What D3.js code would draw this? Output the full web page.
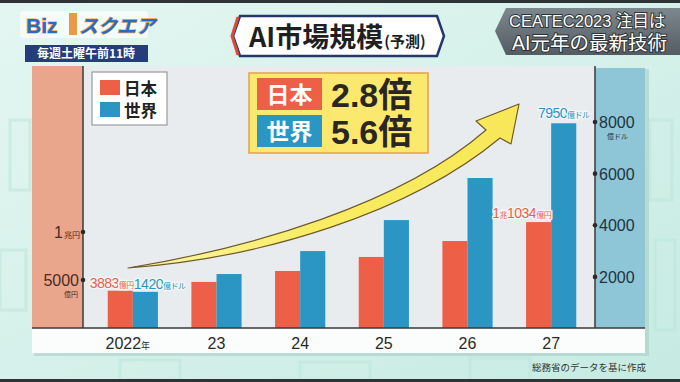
<!DOCTYPE html>
<html><head><meta charset="utf-8">
<script src="https://cdn.jsdelivr.net/npm/d3@7"></script>
<style>html,body{margin:0;padding:0;background:#d6f0ea;}svg{display:block;}</style>
</head><body><svg id="c" width="680" height="382"></svg>
<script>
const years = ["2022", "23", "24", "25", "26", "27"];
const japan = [3883, 4800, 5940, 7400, 9060, 11034];   // 億円
const world = [1420, 2110, 3000, 4200, 5830, 7950];    // 億ドル
const leftTicks = [5000, 10000];
const rightTicks = [2000, 4000, 6000, 8000];
const seriesNames = ["日本", "世界"];
const multiples = ["2.8倍", "5.6倍"];

const FONT = "'Liberation Sans','Noto Sans CJK JP',sans-serif";
const JP = "'Noto Sans CJK JP',sans-serif";
const RED = "#ee5f47", BLUE = "#2b95c3";

const svg = d3.select("#c");
const defs = svg.append("defs");
const bg = defs.append("linearGradient").attr("id","bg").attr("x1",0).attr("y1",0).attr("x2",1).attr("y2",1);
bg.append("stop").attr("offset",0).attr("stop-color","#e4f6f2");
bg.append("stop").attr("offset",1).attr("stop-color","#c6ebe2");
const tr = defs.append("linearGradient").attr("id","tr").attr("x1",0).attr("y1",0).attr("x2",0).attr("y2",1);
tr.append("stop").attr("offset",0).attr("stop-color","#7d888e");
tr.append("stop").attr("offset",1).attr("stop-color","#535c62");
const ar = defs.append("linearGradient").attr("id","ar").attr("x1",0).attr("y1",0).attr("x2",1).attr("y2",0);
ar.append("stop").attr("offset",0).attr("stop-color","#fbf6a8");
ar.append("stop").attr("offset",0.5).attr("stop-color","#f8ec62");
ar.append("stop").attr("offset",1).attr("stop-color","#f8e858");

svg.append("rect").attr("width",680).attr("height",382).attr("fill","url(#bg)");
const pat = svg.append("g").attr("fill","none").attr("stroke","#bfe7dc").attr("stroke-width",3).attr("opacity",0.6);
[[10,120,20,70],[0,250,26,60],[650,120,22,80],[655,240,20,90],[120,360,60,20],[300,362,70,18],[470,358,60,22]].forEach(r=>pat.append("rect").attr("x",r[0]).attr("y",r[1]).attr("width",r[2]).attr("height",r[3]));
svg.append("rect").attr("width",680).attr("height",3).attr("fill","#2e3336");
svg.append("rect").attr("y",379).attr("width",680).attr("height",3).attr("fill","#2e3336");

// ---------- header ----------
const logo = svg.append("g");
logo.append("rect").attr("x",20).attr("y",11).attr("width",128).attr("height",27).attr("rx",3).attr("fill","#f4fbfa");
logo.append("text").attr("x",26).attr("y",33).attr("font-family",FONT).attr("font-weight","bold")
  .attr("font-size",21).attr("fill","#2a6cc2").attr("stroke","#f2a64a").attr("stroke-width",1.2).attr("paint-order","stroke").text("Biz");
logo.append("rect").attr("x",69).attr("y",13).attr("width",8).attr("height",22).attr("fill","#e89a45");
logo.append("text").attr("x",79).attr("y",33).attr("font-family",JP).attr("font-weight","bold").attr("font-style","italic")
  .attr("font-size",19).attr("fill","#2a6cc2").attr("stroke","#f2a64a").attr("stroke-width",1.2).attr("paint-order","stroke").text("スクエア");
svg.append("rect").attr("x",25).attr("y",45).attr("width",123).attr("height",17).attr("fill","#263d7b");
svg.append("text").attr("x",86).attr("y",58).attr("text-anchor","middle").attr("font-family",JP).attr("font-weight","bold")
  .attr("font-size",12).attr("fill","#fff").text("毎週土曜午前11時");

const tg = svg.append("g");
tg.append("path").attr("d","M240,16 L437,16 L444,36 L437,56 L240,56 L233,36 Z").attr("fill","#fff").attr("stroke","#24386a").attr("stroke-width",2.5);
tg.append("path").attr("d","M238,17 L232,36 L238,55").attr("fill","none").attr("stroke","#e0493a").attr("stroke-width",3);
const tt = tg.append("text").attr("x",249).attr("y",47).attr("font-family",JP).attr("font-weight","bold").attr("fill","#1f1f1f");
tt.append("tspan").attr("font-size",27).text("AI市場規模");
tt.append("tspan").attr("font-size",15).attr("dx",1).text("(予測)");

svg.append("path").attr("d","M506,8 L680,8 L680,55 L506,55 L495,31 Z").attr("fill","url(#tr)");
[["CEATEC2023 注目は",27,16.5,509],["AI元年の最新技術",50,19.5,512]].forEach(d=>{
  svg.append("text").attr("x",d[3]).attr("y",d[1]).attr("font-family",FONT).attr("font-size",d[2]).attr("fill","#fff")
    .attr("stroke","#2d3438").attr("stroke-width",2).attr("paint-order","stroke").text(d[0]);
});

// ---------- chart panel ----------
const plotL = 83, plotR = 595, pTop = 66, base = 328;
svg.append("rect").attr("x",34).attr("y",pTop+3).attr("width",615).attr("height",287).attr("fill","#9fc8c0").attr("opacity",0.5);
svg.append("rect").attr("x",32).attr("y",pTop).attr("width",plotL-32).attr("height",base-pTop).attr("fill","#e9a68d");
svg.append("rect").attr("x",plotL).attr("y",pTop).attr("width",plotR-plotL).attr("height",base-pTop).attr("fill","#e9ecef");
svg.append("rect").attr("x",plotR).attr("y",pTop+2).attr("width",645-plotR).attr("height",base-pTop-2).attr("fill","#8ec6d7");
svg.append("rect").attr("x",32).attr("y",base).attr("width",613).attr("height",25).attr("fill","#fbfcfc");

const x = d3.scaleBand().domain(years).range([91,593]).paddingInner(0.4).paddingOuter(0.2);
const xs = d3.scaleBand().domain(seriesNames).range([0,x.bandwidth()]);
const yJ = d3.scaleLinear().domain([0,10000]).range([base,232]);
const yW = d3.scaleLinear().domain([0,8000]).range([base+0.5,122]);

svg.append("path")
  .attr("d","M128,268 C250,248 400,205 486,130 L476,121 L519,104 L511,144 L500,138 C410,213 262,258 128,268 Z")
  .attr("fill","url(#ar)").attr("stroke","#6e5a2c").attr("stroke-width",1.2).attr("stroke-linejoin","round");

const g = svg.append("g");
g.selectAll(".bj").data(years).join("rect").attr("x",d=>x(d)+xs("日本")).attr("width",xs.bandwidth())
  .attr("y",(d,i)=>yJ(japan[i])).attr("height",(d,i)=>base-yJ(japan[i])).attr("fill",RED);
g.selectAll(".bw").data(years).join("rect").attr("x",d=>x(d)+xs("世界")).attr("width",xs.bandwidth())
  .attr("y",(d,i)=>yW(world[i])).attr("height",(d,i)=>base-yW(world[i])).attr("fill",BLUE);

svg.append("line").attr("x1",32).attr("x2",645).attr("y1",base).attr("y2",base).attr("stroke","#3a3a3a").attr("stroke-width",1.5);
svg.append("line").attr("x1",plotL).attr("x2",plotL).attr("y1",pTop).attr("y2",base).attr("stroke","#3a3a3a").attr("stroke-width",1.5);
svg.append("line").attr("x1",plotR).attr("x2",plotR).attr("y1",pTop).attr("y2",base).attr("stroke","#3a3a3a").attr("stroke-width",1.5);

leftTicks.forEach(t=>{
  const y = yJ(t);
  svg.append("circle").attr("cx",plotL).attr("cy",y).attr("r",2.3).attr("fill","#2a2a2a");
  if (t === 10000) {
    const tx = svg.append("text").attr("x",80).attr("y",y+6).attr("text-anchor","end").attr("font-family",FONT).attr("fill","#4a2c24");
    tx.append("tspan").attr("font-size",16).text("1");
    tx.append("tspan").attr("font-size",8).attr("dx",1).text("兆円");
  } else {
    svg.append("text").attr("x",79).attr("y",y+6).attr("text-anchor","end").attr("font-family",FONT).attr("font-size",16).attr("fill","#4a2c24").text(d3.format("d")(t));
    svg.append("text").attr("x",78).attr("y",y+16.5).attr("text-anchor","end").attr("font-family",JP).attr("font-size",7).attr("fill","#4a2c24").text("億円");
  }
});
rightTicks.forEach(t=>{
  const y = yW(t);
  svg.append("circle").attr("cx",plotR).attr("cy",y).attr("r",2.3).attr("fill","#2a2a2a");
  svg.append("text").attr("x",599).attr("y",y+6).attr("font-family",FONT).attr("font-size",16).attr("fill","#1e3440").text(d3.format("d")(t));
  if (t === 8000) svg.append("text").attr("x",607).attr("y",y+16.5).attr("font-family",JP).attr("font-size",7).attr("fill","#1e3440").text("億ドル");
});

years.forEach((d,i)=>{
  const t = svg.append("text").attr("x",x(d)+x.bandwidth()/2 - (i===0?5:0)).attr("y",349).attr("text-anchor","middle")
    .attr("font-family",FONT).attr("font-size",16).attr("fill","#2a2a2a");
  t.append("tspan").text(d);
  if (i===0) t.append("tspan").attr("font-size",9).attr("font-family",JP).text("年");
});

function vlabel(xp, yp, anchor, num, color){
  const t = svg.append("text").attr("x",xp).attr("y",yp).attr("text-anchor",anchor).attr("font-family",FONT)
    .attr("fill",color).attr("stroke","#f4f6f7").attr("stroke-width",2.5).attr("paint-order","stroke").attr("letter-spacing",-0.5);
  num.forEach(n=>{
    t.append("tspan").attr("font-size",14).text(n[0]);
    if (n[1]) t.append("tspan").attr("font-size",8).attr("font-family",JP).text(n[1]);
  });
}
const x0 = x(years[0]), x5 = x(years[5]);
vlabel(x0+xs("日本")+xs.bandwidth()+1, yJ(japan[0])-3, "end", [[String(japan[0]),"億円"]], RED);
vlabel(x0+xs("世界")+1, yW(world[0])-3, "start", [[String(world[0]),"億ドル"]], BLUE);
vlabel(x5+xs("日本")+xs.bandwidth(), yJ(japan[5])-4, "end", [["1","兆"],[String(japan[5]-10000),"億円"]], RED);
vlabel(x5+xs("世界")+xs.bandwidth()/2, yW(world[5])-5, "middle", [[String(world[5]),"億ドル"]], BLUE);

svg.append("rect").attr("x",92).attr("y",72).attr("width",75).attr("height",53).attr("fill","#fff").attr("stroke","#888").attr("stroke-width",1);
seriesNames.forEach((n,i)=>{
  svg.append("rect").attr("x",100).attr("y",80+i*22).attr("width",20).attr("height",15).attr("fill",i?BLUE:RED);
  svg.append("text").attr("x",124).attr("y",94.5+i*22).attr("font-family",JP).attr("font-weight","bold").attr("font-size",16.5).attr("fill","#222").text(n);
});

svg.append("rect").attr("x",249).attr("y",73).attr("width",179).attr("height",80).attr("fill","#fbe96f").attr("stroke","#e3a148").attr("stroke-width",1.5);
seriesNames.forEach((n,i)=>{
  const yy = 78 + i*37;
  svg.append("rect").attr("x",257).attr("y",yy).attr("width",65).attr("height",32).attr("fill",i?BLUE:RED);
  svg.append("text").attr("x",289.5).attr("y",yy+25).attr("text-anchor","middle").attr("font-family",JP).attr("font-weight","bold").attr("font-size",23).attr("fill","#fff").text(n);
  svg.append("text").attr("x",331).attr("y",yy+29).attr("font-family",FONT).attr("font-weight","bold").attr("font-size",34).attr("fill","#2a2622").text(multiples[i]);
});

svg.append("text").attr("x",646).attr("y",371).attr("text-anchor","end").attr("font-family",JP).attr("font-size",9.5).attr("fill","#333").text("総務省のデータを基に作成");
</script></body></html>
